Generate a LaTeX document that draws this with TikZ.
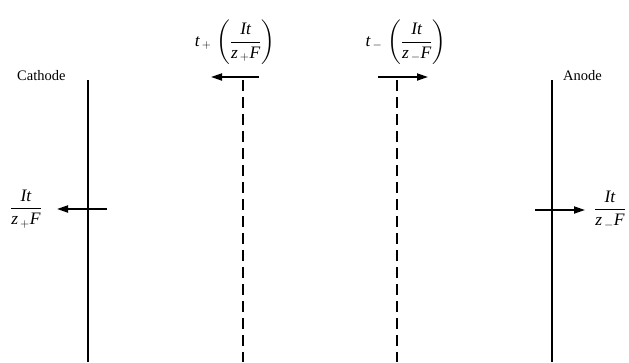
\documentclass[tikz,border=0pt]{standalone}
\usepackage{amsmath}
\usepackage{graphicx}
\usepackage{fontspec}
\setmainfont{Liberation Serif}
\usetikzlibrary{arrows.meta}
\newcommand\mi[1]{\textit{#1}}
\newcommand\fr[1]{\dfrac{\mi{It}}{\mi{z}_{\,#1}\mi{F}}}
\newcommand\lpar{\vcenter{\hbox{\scalebox{1}[0.86]{$\displaystyle\Biggl($}}}}
\newcommand\rpar{\vcenter{\hbox{\scalebox{1}[0.86]{$\displaystyle\Biggr)$}}}}
\begin{document}
\begin{tikzpicture}[x=1pt,y=-1pt,
  wall/.style={line width=1.6pt},
  mem/.style={line width=1.4pt,dash pattern=on 11pt off 6pt},
  flux/.style={line width=1.8pt,-{Triangle[length=11pt,width=7pt]}},
  lab/.style={inner sep=0pt,font=\fontsize{14.5}{17}\selectfont},
  mlab/.style={inner sep=0pt,font=\fontsize{17.5}{20}\selectfont}]
\useasboundingbox (0,0) rectangle (629,362);
% electrodes
\coordinate (ct) at (88,80); \coordinate (cb) at (88,362);
\coordinate (at) at (552,80); \coordinate (ab) at (552,362);
\draw[wall] (ct) -- (cb);
\draw[wall] (at) -- (ab);
% dashed boundaries
\coordinate (d1t) at (243,80); \coordinate (d1b) at (243,362);
\coordinate (d2t) at (397,80); \coordinate (d2b) at (397,362);
\draw[mem] (d1t) -- (d1b);
\draw[mem] (d2t) -- (d2b);
% labels
\node[lab,anchor=base west] (cath) at (17,80) {Cathode};
\node[lab,anchor=base west] (an) at (563,80) {Anode};
% electrode fluxes
\coordinate (c1) at (107,209); \coordinate (c2) at (57,209);
\draw[flux] (c1) -- (c2);
\node[mlab] (cl) at (26,209) {$\fr{+}$};
\coordinate (a1) at (535,210); \coordinate (a2) at (585,210);
\draw[flux] (a1) -- (a2);
\node[mlab] (al) at (610,210) {$\fr{-}$};
% boundary fluxes
\coordinate (m1) at (259,77); \coordinate (m2) at (211,77);
\draw[flux] (m1) -- (m2);
\node[mlab] (tl) at (235,42) {$\mi{t}_{\,+}\;\lpar\fr{+}\rpar$};
\coordinate (n1) at (378,77); \coordinate (n2) at (428,77);
\draw[flux] (n1) -- (n2);
\node[mlab] (tr) at (406,42) {$\mi{t}_{\,-}\;\lpar\fr{-}\rpar$};
\end{tikzpicture}
\end{document}
